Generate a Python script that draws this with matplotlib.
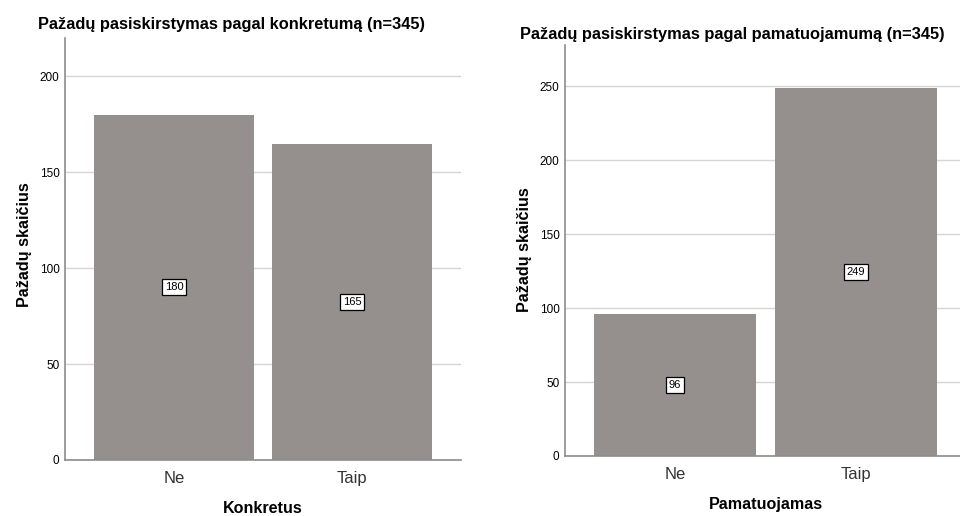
import numpy as np
import matplotlib.pyplot as plt

# data
categories = ["Ne", "Taip"]
konkretus = [180, 165]
pamatuojamas = [96, 249]

bar_color = "#958f8d"
grid_color = "#d6d6d6"
axis_color = "#8c8c8c"

plt.rcParams['font.family'] = ['Liberation Sans', 'DejaVu Sans']

fig = plt.figure(figsize=(9.6, 5.16), dpi=100)
W, H = 960, 516


def px_axes(x0, y_top, x1, y_bot):
    return fig.add_axes([x0 / W, (H - y_bot) / H, (x1 - x0) / W, (y_bot - y_top) / H])


def ftext(x, y, s, **kw):
    # place text using pixel coords measured from the top-left
    fig.text(x / W, (H - y) / H, s, **kw)


def draw(ax, values, ylim, yticks, xlim, width):
    x = np.arange(len(categories))
    ax.set_axisbelow(True)
    ax.yaxis.grid(True, color=grid_color, linewidth=1)
    ax.bar(x, values, width=width, color=bar_color, zorder=2)
    for xi, v in zip(x, values):
        ax.text(xi, v / 2, str(v), ha="center", va="center", fontsize=8, zorder=3,
                bbox=dict(boxstyle="square,pad=0.28", facecolor="white",
                          edgecolor="black", linewidth=0.9))
    ax.set_ylim(*ylim)
    ax.set_xlim(*xlim)
    ax.set_yticks(yticks)
    ax.set_xticks(x)
    ax.set_xticklabels(categories, fontsize=12, color="#333333")
    ax.tick_params(axis="y", length=0, pad=4, labelsize=8.5)
    ax.tick_params(axis="x", length=0, pad=8)
    for s in ["top", "right"]:
        ax.spines[s].set_visible(False)
    for s in ["left", "bottom"]:
        ax.spines[s].set_color(axis_color)
        ax.spines[s].set_linewidth(1.2)


ax1 = px_axes(65, 38, 461, 460)
draw(ax1, konkretus, (0, 220), [0, 50, 100, 150, 200], (-0.612, 1.612), 0.9)

ax2 = px_axes(565, 45, 960, 456)
draw(ax2, pamatuojamas, (0, 278), [0, 50, 100, 150, 200, 250], (-0.608, 1.575), 0.895)

bold = dict(fontweight="bold", ha="center")
ftext(231, 29, "Pažadų pasiskirstymas pagal konkretumą (n=345)", fontsize=11.8, va="baseline", **bold)
ftext(732, 38.5, "Pažadų pasiskirstymas pagal pamatuojamumą (n=345)", fontsize=11.8, va="baseline", **bold)
ftext(24.5, 245, "Pažadų skaičius", fontsize=11.6, va="center", rotation=90, **bold)
ftext(525, 250, "Pažadų skaičius", fontsize=11.6, va="center", rotation=90, **bold)
ftext(263, 513, "Konkretus", fontsize=11.6, va="baseline", **bold)
ftext(766, 509, "Pamatuojamas", fontsize=11.6, va="baseline", **bold)

fig.savefig("out.png", dpi=100)
